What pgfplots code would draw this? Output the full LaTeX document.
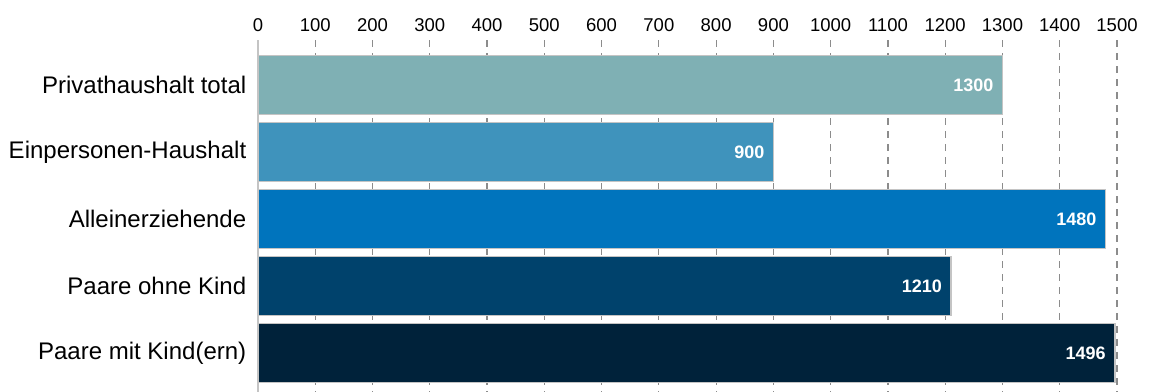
\documentclass[border=0pt]{standalone}
\usepackage{pgfplots}
\pgfplotsset{compat=1.18}
\usepackage{fontspec}
\setmainfont{Liberation Sans}

\definecolor{c1}{HTML}{7FB0B4}
\definecolor{c2}{HTML}{3F93BC}
\definecolor{c3}{HTML}{0074BD}
\definecolor{c4}{HTML}{00426C}
\definecolor{c5}{HTML}{00223A}
\definecolor{barline}{HTML}{C4C4C4}
\definecolor{gridgray}{HTML}{8C8C8C}

\begin{document}
\begin{tikzpicture}
\useasboundingbox (0,0) rectangle (1150bp,392bp);
\begin{axis}[
  at={(258bp,0bp)}, anchor=south west,
  scale only axis,
  width=859bp, height=352bp,
  xmin=0, xmax=1500,
  ymin=0.328, ymax=5.58,
  y dir=reverse,
  axis x line*=top,
  axis y line*=left,
  x axis line style={draw=none},
  y axis line style={draw=barline, line width=1.8bp},
  xtick={0,100,...,1500},
  xtick style={draw=none},
  xticklabel style={font=\fontsize{18.5bp}{22bp}\selectfont, yshift=5bp},
  /pgf/number format/assume math mode=true,
  /pgf/number format/1000 sep={},
  ytick={1,2,3,4,5},
  yticklabels={Privathaushalt total,Einpersonen-Haushalt,Alleinerziehende,Paare ohne Kind,Paare mit Kind(ern)},
  yticklabel style={font=\fontsize{24bp}{28bp}\selectfont, xshift=-4bp},
  ytick style={draw=none},
  xmajorgrids,
  major x grid style={draw=gridgray, line width=1.2bp, dash pattern=on 6.5bp off 6.5bp},
  xbar, bar shift=0pt, bar width=59bp,
  every axis plot/.append style={draw=barline, line width=1.6bp},
  nodes near coords,
  nodes near coords style={anchor=east, xshift=-5bp, text=white,
    font=\fontsize{18bp}{21bp}\selectfont\bfseries,
    /pgf/number format/assume math mode=true},
  clip=false,
]
\addplot[fill=c1] coordinates {(1300,1)};
\addplot[fill=c2] coordinates {(900,2)};
\addplot[fill=c3] coordinates {(1480,3)};
\addplot[fill=c4] coordinates {(1210,4)};
\addplot[fill=c5] coordinates {(1496,5)};
\end{axis}
\end{tikzpicture}
\end{document}
